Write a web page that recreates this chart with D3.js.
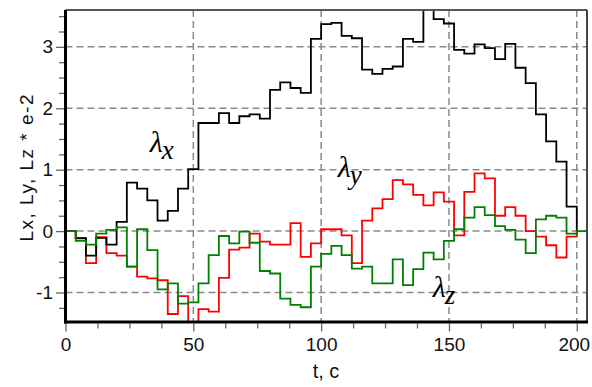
<!DOCTYPE html>
<head>
  <meta charset="utf-8">
  <script src="https://cdn.jsdelivr.net/npm/d3@7"></script>
  <style>
    body { margin: 0; background: #fff; }
    text { font-family: "Liberation Sans", Arial, sans-serif; }
  </style>
</head>
<body>
<div id="container"></div>
<script>
// pas de temps : une marche toutes les 4 s, de 0 à 200
const stepT = d3.range(0, 201, 4);

// Lx (noir)
const lx = [0, -0.12, -0.4, -0.11, -0.22, 0.15, 0.79, 0.69, 0.5, 0.17,
  0.33, 0.69, 1.01, 1.76, 1.76, 1.92, 1.76, 1.87, 1.9, 1.83,
  2.3, 2.42, 2.33, 2.25, 3.13, 3.37, 3.39, 3.18, 3.14, 2.63,
  2.56, 2.64, 2.68, 3.13, 3.08, 3.7, 3.45, 3.38, 2.95, 2.89,
  3.04, 2.98, 2.8, 3.05, 2.66, 2.41, 1.9, 1.46, 1.13, 0.4, 0];

// Ly (rouge)
const ly = [0, -0.11, -0.52, -0.1, -0.36, -0.4, -0.58, -0.74, -0.77, -0.8,
  -1.35, -1.06, -1.65, -1.27, -1.31, -0.76, -0.3, -0.27, -0.04, -0.17,
  -0.22, -0.22, 0.13, -0.42, -0.2, 0.03, 0.03, -0.07, -0.52, 0.17,
  0.37, 0.52, 0.83, 0.76, 0.59, 0.42, 0.63, 0.48, -0.07, 0.64,
  0.94, 0.86, 0.25, 0.39, 0.25, 0.0, -0.09, -0.23, -0.43, -0.09, 0];

// Lz (vert)
const lz = [0, -0.16, -0.22, -0.04, 0.02, 0.06, -0.58, 0.03, -0.31, -0.95,
  -0.85, -1.18, -1.16, -0.85, -0.39, -0.08, -0.2, -0.01, -0.19, -0.65,
  -0.69, -1.1, -1.2, -1.24, -0.58, -0.37, -0.24, -0.39, -0.61, -0.58,
  -0.85, -0.85, -0.46, -0.88, -0.62, -0.35, -0.46, -0.16, 0.03, 0.22,
  0.39, 0.26, 0.08, 0.02, -0.14, -0.36, 0.19, 0.25, 0.22, -0.04, 0];

const xTicks = [0, 50, 100, 150, 200];
const yTicks = [-1, 0, 1, 2, 3];

// étiquettes lambda (position en unités du graphe)
const labels = [
  { sub: "x", t: 33, v: 1.29 },
  { sub: "y", t: 106.5, v: 0.88 },
  { sub: "z", t: 143.7, v: -1.07 }
];

const width = 592, height = 387;
const mLeft = 65.5, mRight = 587, mTop = 10, mBottom = 322;

const svg = d3.select("#container").append("svg")
  .attr("width", width)
  .attr("height", height);

const x = d3.scaleLinear().domain([0, 204]).range([mLeft, mRight]);
const y = d3.scaleLinear().domain([-1.48, 3.6]).range([mBottom, mTop]);

svg.append("clipPath").attr("id", "plot")
  .append("rect")
  .attr("x", mLeft).attr("y", mTop)
  .attr("width", mRight - mLeft).attr("height", mBottom - mTop);

// grille pointillée
const grid = svg.append("g")
  .attr("stroke", "#8a8a8a")
  .attr("stroke-width", 1.5)
  .attr("stroke-dasharray", "7,4");
grid.selectAll(".gx").data(xTicks.filter(d => d > 0)).enter().append("line")
  .attr("x1", d => x(d)).attr("x2", d => x(d))
  .attr("y1", mTop).attr("y2", mBottom);
grid.selectAll(".gy").data(yTicks).enter().append("line")
  .attr("x1", mLeft).attr("x2", mRight)
  .attr("y1", d => y(d)).attr("y2", d => y(d));

// courbes en escalier
const line = d3.line()
  .x(d => x(d[0]))
  .y(d => y(d[1]))
  .curve(d3.curveStepAfter);

const series = [
  { vals: ly, color: "#ff0000", end: null },
  { vals: lx, color: "#000000", end: null },
  { vals: lz, color: "#008000", end: 204 }
];

series.forEach(s => {
  const pts = stepT.map((t, i) => [t, s.vals[i]]);
  if (s.end) pts.push([s.end, s.vals[s.vals.length - 1]]);
  svg.append("path")
    .attr("clip-path", "url(#plot)")
    .attr("d", line(pts))
    .attr("fill", "none")
    .attr("stroke", s.color)
    .attr("stroke-width", 1.8);
});

// cadre
svg.append("line")
  .attr("x1", mLeft).attr("x2", mRight).attr("y1", mTop).attr("y2", mTop)
  .attr("stroke", "#555").attr("stroke-width", 2);
svg.append("line")
  .attr("x1", mRight).attr("x2", mRight).attr("y1", mTop).attr("y2", mBottom)
  .attr("stroke", "#444").attr("stroke-width", 2);

// axes : graduations principales et secondaires
const fmt = d => String(d);

const xMajor = svg.append("g")
  .attr("transform", `translate(0,${mBottom + 1.5})`)
  .call(d3.axisBottom(x).tickValues(xTicks).tickSize(8).tickPadding(6).tickFormat(fmt));
const xMinor = svg.append("g")
  .attr("transform", `translate(0,${mBottom + 1.5})`)
  .call(d3.axisBottom(x).tickValues(d3.range(12.5, 204, 12.5).filter(d => d % 50 !== 0))
    .tickSize(5).tickFormat(""));

const yMajor = svg.append("g")
  .attr("transform", `translate(${mLeft - 1.5},0)`)
  .call(d3.axisLeft(y).tickValues(yTicks).tickSize(8).tickPadding(3).tickFormat(fmt));
const yMinor = svg.append("g")
  .attr("transform", `translate(${mLeft - 1.5},0)`)
  .call(d3.axisLeft(y).tickValues(d3.range(-1.25, 3.6, 0.25).filter(d => d % 1 !== 0))
    .tickSize(5).tickFormat(""));

[xMajor, xMinor, yMajor, yMinor].forEach(g => {
  g.select(".domain").remove();
  g.selectAll(".tick line").attr("stroke", "#666").attr("stroke-width", 1.3);
  g.selectAll(".tick text")
    .attr("fill", "#111")
    .style("font-size", "19px")
    .style("font-family", "'Liberation Sans', Arial, sans-serif");
});
// le dernier libellé touche le bord droit
xMajor.selectAll(".tick text").filter(d => d === 200).attr("dx", -3);

// axes épais
svg.append("line")
  .attr("x1", mLeft).attr("x2", mLeft).attr("y1", mTop).attr("y2", mBottom + 1.5)
  .attr("stroke", "#000").attr("stroke-width", 3);
svg.append("line")
  .attr("x1", mLeft - 1.5).attr("x2", mRight + 1).attr("y1", mBottom).attr("y2", mBottom)
  .attr("stroke", "#000").attr("stroke-width", 3);

// titres d'axes
svg.append("text")
  .attr("x", 326).attr("y", 378)
  .attr("text-anchor", "middle")
  .style("font-size", "20px")
  .attr("fill", "#111")
  .text("t, c");

svg.append("text")
  .attr("transform", "translate(33,168) rotate(-90)")
  .attr("text-anchor", "middle")
  .attr("textLength", 147)
  .attr("lengthAdjust", "spacing")
  .style("font-size", "19px")
  .attr("fill", "#111")
  .text("Lx, Ly, Lz * e-2");

// étiquettes λ
labels.forEach(l => {
  const t = svg.append("text")
    .attr("x", x(l.t)).attr("y", y(l.v))
    .style("font-family", "'Liberation Serif', 'Times New Roman', serif")
    .style("font-style", "italic")
    .style("font-size", "30px")
    .attr("fill", "#000");
  t.append("tspan").text("λ");
  t.append("tspan").attr("dy", 7).attr("dx", -1).style("font-size", "27px").text(l.sub);
});
</script>
</body>
